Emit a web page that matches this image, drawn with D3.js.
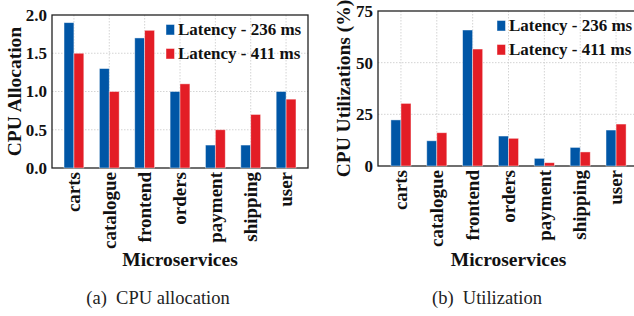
<!DOCTYPE html>
<html>
<head>
<meta charset="utf-8">
<script src="https://cdn.jsdelivr.net/npm/d3@7"></script>
<style>
  html, body { margin: 0; padding: 0; background: #fff; }
  svg { display: block; }
</style>
</head>
<body>
<div class="main"></div>
<script>
(function() {
  'use strict';

  var services = ["carts", "catalogue", "frontend", "orders", "payment", "shipping", "user"];
  var seriesNames = ["Latency - 236 ms", "Latency - 411 ms"];

  // CPU allocation (cores)
  var allocFast = [1.9, 1.3, 1.7, 1.0, 0.3, 0.3, 1.0];
  var allocSlow = [1.5, 1.0, 1.8, 1.1, 0.5, 0.7, 0.9];
  var allocTicks = [0, 0.5, 1.0, 1.5, 2.0];
  var allocTickLabels = ["0.0", "0.5", "1.0", "1.5", "2.0"];

  // CPU utilization (%)
  var utilFast = [22.3, 12.2, 65.8, 14.5, 3.7, 9.0, 17.4];
  var utilSlow = [30.3, 16.1, 56.6, 13.4, 1.6, 6.8, 20.3];
  var utilTicks = [0, 25, 50, 75];
  var utilTickLabels = ["0", "25", "50", "75"];

  var colors = ["#0056a6", "#e31d26"];
  var serif = "'Liberation Serif', 'Times New Roman', serif";
  var barW = 0.28;

  var svg = d3.select(".main")
    .append("svg")
      .attr("width", 634)
      .attr("height", 316)
      .style("font-family", serif);

  function drawPanel(p) {
    var g = svg.append("g");

    var x = d3.scaleLinear()
      .domain([-p.pad, services.length - 1 + p.pad])
      .range([p.left, p.right]);

    var y = d3.scaleLinear()
      .domain([p.ticks[0], p.ticks[p.ticks.length - 1]])
      .range([p.bottom, p.top]);

    // grid
    g.selectAll(".vgrid")
      .data(services)
      .enter().append("line")
        .attr("x1", function(d, i) { return x(i); })
        .attr("x2", function(d, i) { return x(i); })
        .attr("y1", p.top)
        .attr("y2", p.bottom)
        .style("stroke", "#cfcfcf")
        .style("stroke-width", 0.9)
        .style("stroke-dasharray", "1.5,1.5");

    g.selectAll(".hgrid")
      .data(p.ticks.slice(1, -1))
      .enter().append("line")
        .attr("x1", p.left)
        .attr("x2", p.right)
        .attr("y1", function(d) { return y(d); })
        .attr("y2", function(d) { return y(d); })
        .style("stroke", "#cfcfcf")
        .style("stroke-width", 0.9)
        .style("stroke-dasharray", "1.5,1.5");

    // frame
    g.append("rect")
      .attr("x", p.left)
      .attr("y", p.top)
      .attr("width", p.right - p.left)
      .attr("height", p.bottom - p.top)
      .style("fill", "none")
      .style("stroke", "#222")
      .style("stroke-width", 1.3);

    // bars
    [p.fast, p.slow].forEach(function(vals, s) {
      g.selectAll(".bar" + s)
        .data(vals)
        .enter().append("rect")
          .attr("x", function(d, i) { return s === 0 ? x(i - barW) : x(i); })
          .attr("width", x(barW) - x(0))
          .attr("y", function(d) { return y(d); })
          .attr("height", function(d) { return p.bottom - y(d); })
          .style("fill", colors[s])
          .style("stroke", "#fff")
          .style("stroke-opacity", 0.55)
          .style("stroke-width", 0.8);
    });

    // y ticks
    g.selectAll(".ytick")
      .data(p.ticks)
      .enter().append("text")
        .attr("x", p.left - 5)
        .attr("y", function(d) { return y(d); })
        .attr("dy", "0.35em")
        .style("text-anchor", "end")
        .style("font-weight", "bold")
        .style("font-size", "17px")
        .style("fill", "#111")
        .text(function(d, i) { return p.tickLabels[i]; });

    // x ticks
    g.selectAll(".xtick")
      .data(services)
      .enter().append("text")
        .attr("transform", function(d, i) {
          return "translate(" + x(i) + "," + (p.bottom + 4) + ") rotate(-90)";
        })
        .attr("dy", "0.33em")
        .style("text-anchor", "end")
        .style("font-weight", "bold")
        .style("font-size", "19px")
        .style("fill", "#111")
        .text(function(d) { return d; });

    // axis titles
    g.append("text")
      .attr("transform", "translate(" + p.ylabelX + "," + ((p.top + p.bottom) / 2) + ") rotate(-90)")
      .style("text-anchor", "middle")
      .style("font-weight", "bold")
      .style("font-size", "19.5px")
      .style("fill", "#111")
      .text(p.ylabel);

    g.append("text")
      .attr("x", (p.left + Math.min(p.right, 640)) / 2)
      .attr("y", 266)
      .style("text-anchor", "middle")
      .style("font-weight", "bold")
      .style("font-size", "19.5px")
      .style("fill", "#111")
      .text("Microservices");

    // legend
    seriesNames.forEach(function(name, s) {
      var base = p.top + 20 + s * 24;
      g.append("rect")
        .attr("x", p.right - 142)
        .attr("y", base - 10.5)
        .attr("width", 8.5)
        .attr("height", 10.5)
        .style("fill", colors[s])
        .style("stroke", "#fff")
        .style("stroke-opacity", 0.55)
        .style("stroke-width", 0.8);
      g.append("text")
        .attr("x", p.right - 130)
        .attr("y", base)
        .style("font-weight", "bold")
        .style("font-size", "17px")
        .style("fill", "#111")
        .text(name);
    });

    // caption
    g.append("text")
      .attr("x", p.captionX)
      .attr("y", 304)
      .style("text-anchor", "middle")
      .style("font-size", "18.5px")
      .style("fill", "#222")
      .text(p.caption);
  }

  drawPanel({
    left: 52, right: 308, top: 15, bottom: 168, pad: 0.62,
    fast: allocFast, slow: allocSlow,
    ticks: allocTicks, tickLabels: allocTickLabels,
    ylabel: "CPU Allocation", ylabelX: 20.5,
    captionX: 158, caption: "(a)\u2002CPU allocation"
  });

  drawPanel({
    left: 378, right: 639, top: 11, bottom: 166, pad: 0.64,
    fast: utilFast, slow: utilSlow,
    ticks: utilTicks, tickLabels: utilTickLabels,
    ylabel: "CPU Utilizations (%)", ylabelX: 350,
    captionX: 487, caption: "(b)\u2002Utilization"
  });

}) ();
</script>
</body>
</html>
